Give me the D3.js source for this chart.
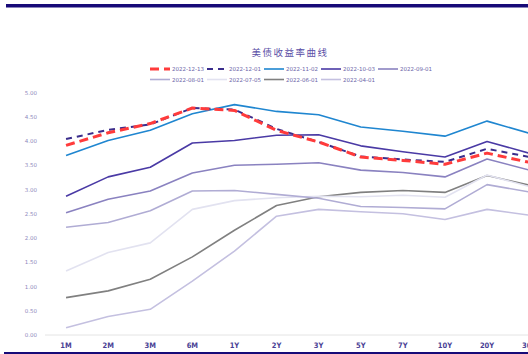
<!DOCTYPE html>
<html>
<head>
<meta charset="utf-8">
<style>
  body { margin: 0; background: #fff; }
  svg { display: block; }
</style>
</head>
<body>
<div id="chart"></div>
<script src="https://d3js.org/d3.v7.min.js"></script>
<script>
// tenors on the x axis
var tenors = ["1M", "2M", "3M", "6M", "1Y", "2Y", "3Y", "5Y", "7Y", "10Y", "20Y", "30Y"];
var yTicks = [0, 0.5, 1, 1.5, 2, 2.5, 3, 3.5, 4, 4.5, 5];

// yields per curve date (%)
var d20221213 = [3.91, 4.17, 4.36, 4.68, 4.63, 4.22, 3.98, 3.67, 3.60, 3.52, 3.75, 3.56];
var d20221201 = [4.04, 4.23, 4.34, 4.68, 4.65, 4.25, 3.98, 3.68, 3.62, 3.57, 3.84, 3.67];
var d20221102 = [3.70, 4.01, 4.22, 4.56, 4.75, 4.61, 4.54, 4.29, 4.20, 4.10, 4.41, 4.16];
var d20221003 = [2.86, 3.26, 3.46, 3.96, 4.01, 4.12, 4.13, 3.90, 3.78, 3.67, 3.99, 3.75];
var d20220901 = [2.52, 2.80, 2.97, 3.34, 3.50, 3.52, 3.55, 3.40, 3.35, 3.26, 3.63, 3.40];
var d20220801 = [2.22, 2.32, 2.56, 2.97, 2.98, 2.90, 2.82, 2.65, 2.63, 2.60, 3.10, 2.95];
var d20220705 = [1.32, 1.70, 1.90, 2.59, 2.77, 2.83, 2.86, 2.85, 2.88, 2.84, 3.30, 3.06];
var d20220601 = [0.77, 0.91, 1.15, 1.61, 2.16, 2.67, 2.85, 2.94, 2.98, 2.94, 3.29, 3.09];
var d20220401 = [0.15, 0.38, 0.53, 1.11, 1.73, 2.45, 2.59, 2.54, 2.50, 2.38, 2.59, 2.47];

var series = [
  {name: "2022-12-13", values: d20221213, color: "#ff3b3b", width: 3, dash: "9,5"},
  {name: "2022-12-01", values: d20221201, color: "#3a2d8c", width: 2, dash: "6,5"},
  {name: "2022-11-02", values: d20221102, color: "#1f86d0", width: 1.6, dash: null},
  {name: "2022-10-03", values: d20221003, color: "#4a3aa5", width: 1.6, dash: null},
  {name: "2022-09-01", values: d20220901, color: "#8a82c0", width: 1.6, dash: null},
  {name: "2022-08-01", values: d20220801, color: "#b0acd4", width: 1.6, dash: null},
  {name: "2022-07-05", values: d20220705, color: "#e2e2f0", width: 1.6, dash: null},
  {name: "2022-06-01", values: d20220601, color: "#808080", width: 1.6, dash: null},
  {name: "2022-04-01", values: d20220401, color: "#c4c0e0", width: 1.6, dash: null}
];

var W = 528, H = 354;
var svg = d3.select("#chart").append("svg").attr("width", W).attr("height", H);

// top and bottom rules
svg.append("rect").attr("x", 6).attr("y", 4).attr("width", W - 6).attr("height", 3.5).attr("fill", "#170a78");
svg.append("rect").attr("x", 4).attr("y", 352).attr("width", W - 4).attr("height", 2).attr("fill", "#170a78");

// title
svg.append("text")
  .attr("x", 290).attr("y", 56)
  .attr("text-anchor", "middle")
  .attr("font-family", "'Noto Sans CJK SC', sans-serif")
  .attr("font-size", 9.5)
  .attr("letter-spacing", 1.5)
  .attr("fill", "#5a4ea6")
  .text("美债收益率曲线");

var x = d3.scaleBand().domain(tenors).range([45, 45 + 12 * 42.1]).padding(0);
var y = d3.scaleLinear().domain([0, 5]).range([335, 92.5]);
function cx(t) { return x(t) + x.bandwidth() / 2; }

// baseline
svg.append("line")
  .attr("x1", 45).attr("x2", W).attr("y1", y(0)).attr("y2", y(0))
  .attr("stroke", "#e4e4e4").attr("stroke-width", 1);

// y labels
svg.append("g").selectAll("text").data(yTicks).enter().append("text")
  .attr("x", 37).attr("y", function(d) { return y(d) + 2; })
  .attr("text-anchor", "end")
  .attr("font-family", "'DejaVu Sans', sans-serif")
  .attr("font-size", 5.5)
  .attr("fill", "#8f89bd")
  .text(function(d) { return d3.format(".2f")(d); });

// x labels
svg.append("g").selectAll("text").data(tenors).enter().append("text")
  .attr("x", cx).attr("y", 348)
  .attr("text-anchor", "middle")
  .attr("font-family", "'DejaVu Sans Condensed', 'DejaVu Sans', sans-serif")
  .attr("font-weight", "bold")
  .attr("font-size", 7.5)
  .attr("fill", "#4a3f95")
  .text(function(d) { return d; });

var line = d3.line()
  .x(function(d, i) { return cx(tenors[i]); })
  .y(function(d) { return y(d); });

// draw oldest first so newer curves sit on top
series.slice().reverse().forEach(function(s) {
  svg.append("path")
    .datum(s.values)
    .attr("d", line)
    .attr("fill", "none")
    .attr("stroke", s.color)
    .attr("stroke-width", s.width)
    .attr("stroke-dasharray", s.dash)
    .attr("stroke-linejoin", "round");
});

// legend, 5 per row
var legend = svg.append("g");
series.forEach(function(s, i) {
  var lx = 150 + (i % 5) * 57;
  var ly = i < 5 ? 69 : 79.5;
  legend.append("line")
    .attr("x1", lx).attr("x2", lx + 20).attr("y1", ly).attr("y2", ly)
    .attr("stroke", s.color)
    .attr("stroke-width", s.width)
    .attr("stroke-dasharray", s.dash);
  legend.append("text")
    .attr("x", lx + 22).attr("y", ly + 2)
    .attr("font-family", "'DejaVu Sans', sans-serif")
    .attr("font-size", 5.5)
    .attr("fill", "#6a63a8")
    .text(s.name);
});
</script>
</body>
</html>
